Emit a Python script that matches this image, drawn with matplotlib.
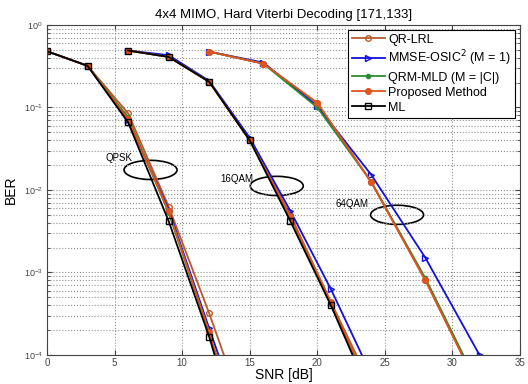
import matplotlib
matplotlib.use("Agg")
import matplotlib.pyplot as plt
from matplotlib.patches import Ellipse

plt.rcParams['font.family'] = ['Liberation Sans', 'DejaVu Sans']

# SNR grids per modulation
snr_qpsk = [0, 3, 6, 9, 12, 15]
snr_16qam = [6, 9, 12, 15, 18, 21, 24]
snr_64qam = [12, 16, 20, 24, 28, 32]

# QPSK BER
qpsk_qrlrl = [0.48, 0.32, 0.085, 0.0063, 3.2e-4, 1.3e-5]
qpsk_mmse = [0.48, 0.32, 0.070, 0.0058, 2.1e-4, 8.3e-6]
qpsk_qrm = [0.48, 0.32, 0.076, 0.0053, 1.9e-4, 4.5e-6]
qpsk_prop = [0.48, 0.32, 0.072, 0.0055, 1.9e-4, 4.5e-6]
qpsk_ml = [0.48, 0.32, 0.066, 0.0042, 1.66e-4, 3.7e-6]

# 16QAM BER
qam16_qrlrl = [0.49, 0.41, 0.205, 0.040, 0.0050, 4.4e-4, 4.2e-5]
qam16_mmse = [0.49, 0.43, 0.21, 0.043, 0.0056, 6.3e-4, 5.7e-5]
qam16_qrm = [0.49, 0.41, 0.205, 0.040, 0.0047, 4.2e-4, 3.3e-5]
qam16_prop = [0.49, 0.41, 0.205, 0.040, 0.0048, 4.3e-4, 3.6e-5]
qam16_ml = [0.49, 0.41, 0.205, 0.040, 0.0042, 4.0e-4, 3.0e-5]

# 64QAM BER (no ML curve)
qam64_qrlrl = [0.475, 0.34, 0.112, 0.0124, 8.0e-4, 3.8e-5]
qam64_mmse = [0.475, 0.35, 0.104, 0.0152, 0.0015, 1.0e-4]
qam64_qrm = [0.475, 0.34, 0.100, 0.0125, 8.5e-4, 4.0e-5]
qam64_prop = [0.475, 0.34, 0.114, 0.0124, 8.0e-4, 3.7e-5]

labels = ['QR-LRL', 'MMSE-OSIC$^2$ (M = 1)', 'QRM-MLD (M = |C|)', 'Proposed Method', 'ML']

# group labels: (text, text pos, ellipse center)
groups = [('QPSK', (5.35, 0.0245), (7.66, 0.0175)),
          ('16QAM', (14.05, 0.0136), (17.0, 0.0112)),
          ('64QAM', (22.6, 0.0068), (25.9, 0.0050))]

styles = [
    dict(color='#b95a2b', marker='o', ms=4, mfc='none', lw=1.3),
    dict(color='#1010e0', marker='>', ms=5, mfc='none', lw=1.3),
    dict(color='#2e8a2e', marker='o', ms=3, mfc='#2e8a2e', lw=1.3),
    dict(color='#e0541e', marker='o', ms=4, mfc='#e0541e', lw=1.3),
    dict(color='black', marker='s', ms=5, mfc='none', lw=1.3),
]

series = [
    [(snr_qpsk, qpsk_qrlrl), (snr_16qam, qam16_qrlrl), (snr_64qam, qam64_qrlrl)],
    [(snr_qpsk, qpsk_mmse), (snr_16qam, qam16_mmse), (snr_64qam, qam64_mmse)],
    [(snr_qpsk, qpsk_qrm), (snr_16qam, qam16_qrm), (snr_64qam, qam64_qrm)],
    [(snr_qpsk, qpsk_prop), (snr_16qam, qam16_prop), (snr_64qam, qam64_prop)],
    [(snr_qpsk, qpsk_ml), (snr_16qam, qam16_ml)],
]

fig = plt.figure(figsize=(5.28, 3.84), dpi=100)
ax = fig.add_axes([0.089, 0.0755, 0.896, 0.8595])

for lab, st, curves in zip(labels, styles, series):
    for i, (x, y) in enumerate(curves):
        ax.semilogy(x, y, label=lab if i == 0 else None, **st)

ax.set_xlim(0, 35)
ax.set_ylim(1e-4, 1)
ax.set_xticks(range(0, 36, 5))

ax.grid(True, which='major', linestyle=':', color='#909090', lw=0.8)
ax.grid(True, which='minor', axis='y', linestyle=':', color='#909090', lw=0.8)
ax.tick_params(which='both', direction='in', top=True, right=True,
               colors='#444444', labelsize=7, labelcolor='#444444', pad=2)
ax.tick_params(axis='y', which='major', labelsize=6.5, pad=3)
for sp in ax.spines.values():
    sp.set_color('#444444')

ax.set_title('4x4 MIMO, Hard Viterbi Decoding [171,133]', fontsize=9.5, pad=5)
ax.set_xlabel('SNR [dB]', fontsize=10, labelpad=0)
ax.set_ylabel('BER', fontsize=10, labelpad=4)

# group ellipses and labels
for txt, tpos, cpos in groups:
    ax.text(tpos[0], tpos[1], txt, fontsize=7, ha='center', va='center')
    cx, cy = ax.transAxes.inverted().transform(ax.transData.transform(cpos))
    ax.add_patch(Ellipse((cx, cy), 0.112, 0.058, transform=ax.transAxes,
                         fill=False, ec='black', lw=1.2))

leg = ax.legend(loc='upper right', fontsize=9, handlelength=2.6,
                borderaxespad=0.4, labelspacing=0.25, handletextpad=0.3,
                borderpad=0.3, fancybox=False, framealpha=1)
leg.get_frame().set_edgecolor('black')
leg.get_frame().set_linewidth(0.8)

fig.savefig('out.png', dpi=100)
